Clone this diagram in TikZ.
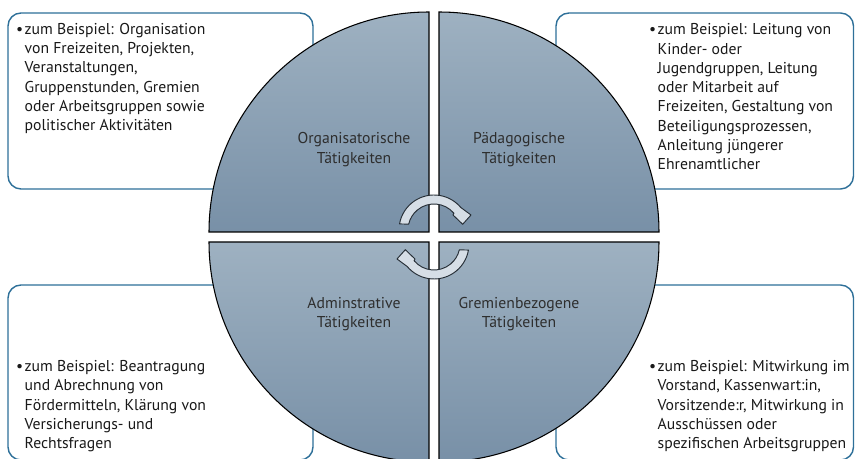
\documentclass[tikz,border=0pt]{standalone}
\usepackage{fontspec}
\setmainfont{PT Sans}
\definecolor{qtop}{RGB}{158,177,193}
\definecolor{qbot}{RGB}{120,144,167}
\definecolor{boxblue}{RGB}{46,112,153}
\definecolor{arrfill}{RGB}{214,222,230}
\definecolor{arrline}{RGB}{38,46,54}
\newcommand{\bul}{\textbullet\kern1.2pt}
\newcommand{\ind}{\hphantom{\bul}}

\begin{document}
\begin{tikzpicture}[x=0.03cm, y=0.03cm, every node/.style={font=\fontsize{13.4}{16.5}\selectfont, text=black!90},
	quad/.style={draw=black, line width=0.9pt, top color=qtop, bottom color=qbot},
	infobox/.style={draw=boxblue, line width=1.2pt, fill=white, rounded corners=0.39cm},
	txt/.style={anchor=base west, align=left, inner sep=0pt},
	lbl/.style={align=center, text=black!82},
	cyc/.style={draw=arrline, line width=0.8pt, fill=arrfill, line join=round}]
	\useasboundingbox (0,0) rectangle (855,459);
	\clip (0,0) rectangle (855,459);
	% boxes behind the circle
	\draw[infobox] (8,270) rectangle (313,446);
	\draw[infobox] (556,270) rectangle (853.5,446);
	\draw[infobox] (8,-1) rectangle (313,174);
	\draw[infobox] (556,-1) rectangle (853.5,174);
	% four quadrants
	\draw[quad] (429,227) -- (209,227) arc[start angle=180, end angle=90, radius=220] -- cycle;
	\draw[quad] (439,227) -- (439,447) arc[start angle=90, end angle=0, radius=220] -- cycle;
	\draw[quad] (429,217) -- (429,-3) arc[start angle=270, end angle=180, radius=220] -- cycle;
	\draw[quad] (439,217) -- (659,217) arc[start angle=0, end angle=-90, radius=220] -- cycle;
	\node[lbl] (org) at (354,309.5) {Organisatorische\\Tätigkeiten};
	\node[lbl] (paed) at (519,309.5) {Pädagogische\\Tätigkeiten};
	\node[lbl] (adm) at (354,145) {Adminstrative\\Tätigkeiten};
	\node[lbl] (grem) at (519,145) {Gremienbezogene\\Tätigkeiten};
	% circular arrows
	\begin{scope}[shift={(434,229)}]
		\draw[cyc] (170:35) arc[start angle=170, end angle=40, radius=35] -- (37,15) -- (28.7,5.7) -- (19,15) -- (40:26) arc[start angle=40, end angle=167, radius=26] -- cycle;
	\end{scope}
	\begin{scope}[shift={(434,215)}, rotate=180]
		\draw[cyc] (170:35) arc[start angle=170, end angle=40, radius=35] -- (37,15) -- (28.7,5.7) -- (19,15) -- (40:26) arc[start angle=40, end angle=167, radius=26] -- cycle;
	\end{scope}
	% examples (anchored at the baseline of the last line)
	\node[txt] (orgtxt) at (16,328) {\bul zum Beispiel: Organisation\\\ind von Freizeiten, Projekten,\\\ind Veranstaltungen,\\\ind Gruppenstunden, Gremien\\\ind oder Arbeitsgruppen sowie\\\ind politischer Aktivitäten};
	\node[txt] (paedtxt) at (649,289) {\bul zum Beispiel: Leitung von\\\ind Kinder- oder\\\ind Jugendgruppen, Leitung\\\ind oder Mitarbeit auf\\\ind Freizeiten, Gestaltung von\\\ind Beteiligungsprozessen,\\\ind Anleitung jüngerer\\\ind Ehrenamtlicher};
	\node[txt] (admtxt) at (16,10) {\bul zum Beispiel: Beantragung\\\ind und Abrechnung von\\\ind Fördermitteln, Klärung von\\\ind Versicherungs- und\\\ind Rechtsfragen};
	\node[txt] (gremtxt) at (649,10) {\bul zum Beispiel: Mitwirkung im\\\ind Vorstand, Kassenwart:in,\\\ind Vorsitzende:r, Mitwirkung in\\\ind Ausschüssen oder\\\ind spezifischen Arbeitsgruppen};
\end{tikzpicture}
\end{document}
